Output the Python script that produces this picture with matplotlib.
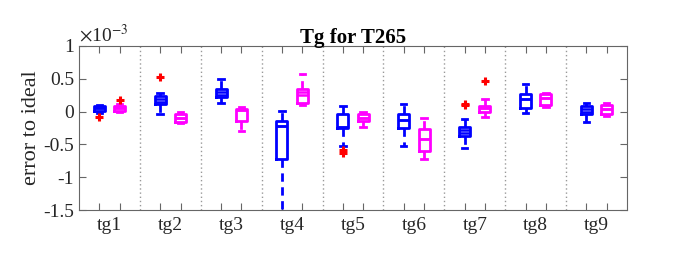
import numpy as np
import matplotlib
matplotlib.use("Agg")
import matplotlib.pyplot as plt

# values in units of 1e-3
groups = ['tg1', 'tg2', 'tg3', 'tg4', 'tg5', 'tg6', 'tg7', 'tg8', 'tg9']

# blue series: whislo, q1, med, mean, q3, whishi
blue_whislo = [-0.02, -0.04, 0.13, -1.60, -0.53, -0.52, -0.56, -0.02, -0.16]
blue_q1     = [0.01, 0.11, 0.22, -0.73, -0.25, -0.25, -0.37, 0.05, -0.04]
blue_med    = [0.05, 0.15, 0.26, -0.22, -0.23, -0.13, -0.32, 0.19, 0.00]
blue_mean   = [0.05, 0.19, 0.30, -0.22, -0.23, -0.13, -0.28, 0.19, 0.04]
blue_q3     = [0.08, 0.24, 0.34, -0.14, -0.04, -0.04, -0.23, 0.27, 0.09]
blue_whishi = [0.10, 0.28, 0.49, 0.01, 0.085, 0.11, -0.12, 0.42, 0.13]
blue_fliers = [[-0.087], [0.52], [], [], [-0.58, -0.63], [], [0.10, 0.12], [], []]

# magenta series
mag_whislo = [-0.01, -0.18, -0.29, 0.10, -0.23, -0.72, -0.08, 0.075, -0.07]
mag_q1     = [0.01, -0.16, -0.14, 0.13, -0.14, -0.60, 0.00, 0.10, -0.04]
mag_med    = [0.05, -0.10, 0.03, 0.25, -0.09, -0.42, 0.05, 0.20, 0.04]
mag_mean   = [0.05, -0.10, 0.03, 0.30, -0.09, -0.42, 0.05, 0.20, 0.04]
mag_q3     = [0.08, -0.04, 0.035, 0.35, -0.04, -0.27, 0.09, 0.27, 0.10]
mag_whishi = [0.12, 0.00, 0.075, 0.57, 0.00, -0.10, 0.19, 0.29, 0.13]
mag_fliers = [[0.17], [], [], [], [], [], [0.46], [], []]


def make_stats(lo, q1, med, mean, q3, hi, fl):
    return [dict(whislo=a, q1=b, med=c, mean=d, q3=e, whishi=f, fliers=g)
            for a, b, c, d, e, f, g in zip(lo, q1, med, mean, q3, hi, fl)]


blue_stats = make_stats(blue_whislo, blue_q1, blue_med, blue_mean, blue_q3, blue_whishi, blue_fliers)
mag_stats = make_stats(mag_whislo, mag_q1, mag_med, mag_mean, mag_q3, mag_whishi, mag_fliers)

plt.rcParams['font.family'] = ['Liberation Serif', 'DejaVu Serif']
plt.rcParams['font.size'] = 14
plt.rcParams['mathtext.fontset'] = 'stix'

fig = plt.figure(figsize=(6.95, 2.6), dpi=100)
ax = fig.add_axes([0.1137, 0.1923, 0.7885, 0.6308])

centers = np.arange(1, len(groups) + 1)
off = 0.167
edge = '0.4'


def draw(stats, pos, col):
    ax.bxp(stats, positions=pos, widths=0.18, showmeans=True, meanline=True,
           showcaps=True, patch_artist=False,
           boxprops=dict(color=col, lw=2),
           medianprops=dict(color=col, lw=1.8),
           meanprops=dict(color=col, lw=1.8, ls='-'),
           whiskerprops=dict(color=col, lw=2, ls=(0, (3, 2))),
           capprops=dict(color=col, lw=2),
           capwidths=0.09,
           flierprops=dict(marker='+', markeredgecolor='red', markersize=6,
                           markeredgewidth=2.2, linestyle='none'),
           manage_ticks=False)


draw(blue_stats, centers - off, 'blue')
draw(mag_stats, centers + off, 'magenta')

for d in np.arange(1.5, len(groups), 1.0):
    ax.axvline(d, color='0.6', lw=1, ls=(0, (1, 2)), zorder=0)

ax.set_xlim(0.5, len(groups) + 0.5)
ax.set_ylim(-1.5, 1)
ax.set_yticks([-1.5, -1, -0.5, 0, 0.5, 1])
ax.set_yticklabels(['-1.5', '-1', '-0.5', '0', '0.5', '1'])
boxpos = np.sort(np.concatenate([centers - off, centers + off]))
ax.set_xticks(boxpos)
ax.set_xticklabels([])
ax.set_xticks(centers, minor=True)
ax.set_xticklabels(groups, minor=True)
ax.tick_params(axis='x', which='minor', length=0, pad=5)
ax.tick_params(which='major', direction='in', length=5, top=True, right=True,
               color=edge, labelcolor='0.15')
ax.tick_params(axis='x', which='minor', labelcolor='0.15')
for s in ax.spines.values():
    s.set_color(edge)

ax.set_ylabel('error to ideal', color='0.15', fontsize=16, labelpad=2)
ax.set_title('Tg for T265', fontweight='bold', fontsize=15, pad=2)
ax.text(0.0, 1.005, r'$\times$10$^{-3}$', transform=ax.transAxes, ha='left',
        va='bottom', fontsize=14, color='0.15')

fig.savefig('out.png', dpi=100)
